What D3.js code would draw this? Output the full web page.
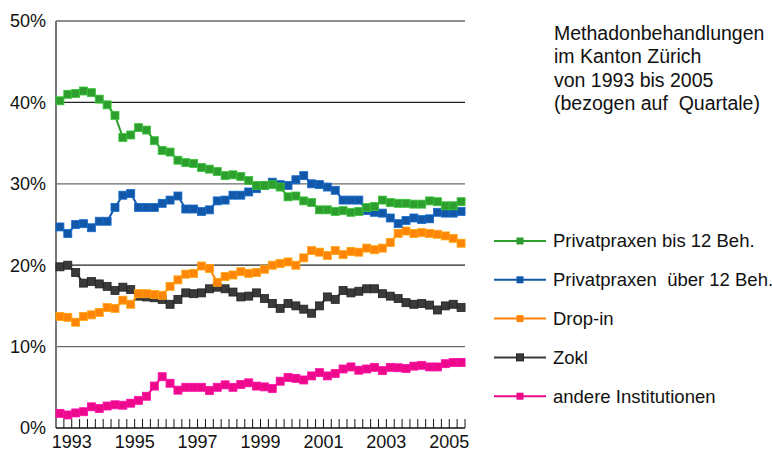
<!DOCTYPE html>
<meta charset="utf-8">
<head>
<style>
  body { margin: 0; background: #fff; }
  svg text { font-family: "Liberation Sans", Arial, sans-serif; fill: #111; }
</style>
</head>

<!-- Load d3.js -->
<script src="https://d3js.org/d3.v7.min.js"></script>

<body>
    <div id="my_dataviz"></div>
</body>

<script>

    // years covered, four quarters each
    var years = [1993, 1994, 1995, 1996, 1997, 1998, 1999, 2000, 2001, 2002, 2003, 2004, 2005];
    var quarters = ["Q1", "Q2", "Q3", "Q4"];
    var yearLabels = ["1993", "1995", "1997", "1999", "2001", "2003", "2005"];
    var yTicks = [0, 10, 20, 30, 40, 50];

    var titleLines = ["Methadonbehandlungen", "im Kanton Zürich", "von 1993 bis 2005", "(bezogen auf  Quartale)"];

    // shares in percent, read per quarter
    var privatBis12 = [40.2, 41.0, 41.1, 41.4, 41.2, 40.4, 39.7, 38.4, 35.7, 36.0, 36.9, 36.6, 35.3, 34.1, 33.9, 32.9,
                       32.6, 32.5, 32.0, 31.8, 31.5, 31.0, 31.1, 30.9, 30.4, 29.8, 29.8, 29.9, 29.6, 28.4, 28.5, 27.9,
                       27.7, 26.8, 26.8, 26.6, 26.7, 26.5, 26.6, 27.1, 27.2, 28.0, 27.7, 27.6, 27.6, 27.5, 27.5, 27.9,
                       27.8, 27.3, 27.3, 27.8];
    var privatUeber12 = [24.7, 23.9, 25.0, 25.1, 24.6, 25.4, 25.4, 27.1, 28.6, 28.8, 27.1, 27.1, 27.1, 27.6, 28.0, 28.5,
                         26.9, 26.9, 26.6, 26.8, 27.9, 28.0, 28.6, 28.6, 29.0, 29.4, 29.8, 30.2, 29.9, 29.8, 30.5, 31.0,
                         30.0, 29.9, 29.6, 29.2, 28.0, 28.0, 28.0, 26.7, 26.5, 26.4, 25.8, 25.1, 25.5, 25.8, 25.6, 25.7,
                         26.5, 26.4, 26.4, 26.6];
    var dropIn = [13.7, 13.6, 13.0, 13.7, 13.9, 14.2, 14.8, 14.7, 15.7, 15.2, 16.5, 16.5, 16.4, 16.3, 17.4, 18.2,
                  18.9, 19.0, 19.9, 19.6, 17.9, 18.6, 18.8, 19.2, 19.0, 19.1, 19.5, 20.0, 20.2, 20.4, 20.0, 20.9,
                  21.8, 21.6, 21.2, 21.8, 21.3, 21.7, 21.6, 22.1, 21.9, 22.1, 22.8, 23.9, 24.2, 23.9, 24.0, 23.9,
                  23.8, 23.6, 23.3, 22.7];
    var zokl = [19.8, 20.0, 19.1, 17.8, 18.0, 17.7, 17.4, 16.9, 17.3, 17.0, 16.2, 16.1, 16.0, 15.8, 15.2, 15.8,
                16.6, 16.5, 16.6, 17.1, 17.3, 17.1, 16.7, 16.1, 16.2, 16.6, 15.9, 15.3, 14.7, 15.3, 15.0, 14.6,
                14.1, 15.0, 16.1, 15.8, 16.9, 16.6, 16.8, 17.1, 17.1, 16.5, 16.2, 15.9, 15.4, 15.2, 15.3, 15.1,
                14.5, 15.0, 15.2, 14.8];
    var andere = [1.8, 1.6, 1.85, 2.0, 2.6, 2.4, 2.7, 2.85, 2.8, 3.05, 3.4, 3.9, 5.15, 6.3, 5.5, 4.65,
                  5.0, 5.0, 5.0, 4.6, 5.0, 5.3, 5.0, 5.35, 5.55, 5.15, 5.05, 4.85, 5.75, 6.2, 6.1, 5.9,
                  6.4, 6.8, 6.4, 6.7, 7.25, 7.5, 7.1, 7.25, 7.45, 7.05, 7.45, 7.4, 7.3, 7.6, 7.7, 7.5,
                  7.5, 7.9, 8.05, 8.05];

    var seriesNames = ["Privatpraxen bis 12 Beh.", "Privatpraxen  über 12 Beh.", "Drop-in", "Zokl", "andere Institutionen"];
    var seriesColors = ["#2e9f2e", "#1257a8", "#ff8508", "#3a3a3a", "#ec0a8a"];
    var seriesValues = [privatBis12, privatUeber12, dropIn, zokl, andere];

    // one key per quarter
    var keys = [];
    years.forEach(function(y) { quarters.forEach(function(q) { keys.push(y + "-" + q); }); });

    var width = 772, height = 453;
    var plot = {left: 56, right: 465, top: 21, bottom: 428};

    var svg = d3.select("#my_dataviz")
      .append("svg")
        .attr("width", width)
        .attr("height", height);

    var x = d3.scaleBand()
      .domain(keys)
      .range([plot.left, plot.right]);

    var y = d3.scaleLinear()
      .domain([0, 50])
      .range([plot.bottom, plot.top]);

    // horizontal grid lines
    svg.append("g")
      .selectAll("line")
      .data(yTicks.filter(function(d) { return d > 0; }))
      .enter()
      .append("line")
        .attr("x1", plot.left)
        .attr("x2", plot.right)
        .attr("y1", function(d) { return y(d); })
        .attr("y2", function(d) { return y(d); })
        .style("stroke", function(d) { return d % 20 == 10 ? "#6a6a6a" : "#222"; })
        .style("stroke-width", 1.3);

    // y labels
    svg.append("g")
      .selectAll("text")
      .data(yTicks)
      .enter()
      .append("text")
        .attr("x", plot.left - 10)
        .attr("y", function(d) { return y(d); })
        .attr("dy", "0.35em")
        .style("text-anchor", "end")
        .style("font-size", "18px")
        .text(function(d) { return d + "%"; });

    // small ticks on the category boundaries, pointing up
    var tickPos = keys.map(function(k) { return x(k); }).concat([plot.right]);
    svg.append("g")
      .selectAll("line")
      .data(tickPos)
      .enter()
      .append("line")
        .attr("x1", function(d) { return d; })
        .attr("x2", function(d) { return d; })
        .attr("y1", plot.bottom)
        .attr("y2", plot.bottom - 9)
        .style("stroke", "#111")
        .style("stroke-width", 1);

    // axis lines
    svg.append("line")
      .attr("x1", plot.left).attr("x2", plot.left)
      .attr("y1", plot.top).attr("y2", plot.bottom)
      .style("stroke", "#777").style("stroke-width", 2);
    svg.append("line")
      .attr("x1", plot.left).attr("x2", plot.right)
      .attr("y1", plot.bottom).attr("y2", plot.bottom)
      .style("stroke", "#111").style("stroke-width", 1.5);

    // year labels, centred on each year
    svg.append("g")
      .selectAll("text")
      .data(yearLabels)
      .enter()
      .append("text")
        .attr("x", function(d) { return x(d + "-Q3"); })
        .attr("y", 448)
        .style("text-anchor", "middle")
        .style("font-size", "18px")
        .text(function(d) { return d; });

    // lines + square markers, last legend entry drawn first
    var line = d3.line()
      .x(function(d, i) { return x(keys[i]) + x.bandwidth() / 2; })
      .y(function(d) { return y(d); });

    var order = [4, 3, 2, 1, 0];
    order.forEach(function(s) {
      var g = svg.append("g");
      g.append("path")
        .datum(seriesValues[s])
        .attr("d", line)
        .style("fill", "none")
        .style("stroke", seriesColors[s])
        .style("stroke-width", 2);
      g.selectAll("rect")
        .data(seriesValues[s])
        .enter()
        .append("rect")
          .attr("x", function(d, i) { return x(keys[i]) + x.bandwidth() / 2 - 4; })
          .attr("y", function(d) { return y(d) - 4; })
          .attr("width", 8)
          .attr("height", 8)
          .style("fill", seriesColors[s])
          .style("stroke", s == 3 ? "#222" : d3.color(seriesColors[s]).brighter(0.6))
          .style("stroke-width", 0.8);
    });

    // title
    svg.append("g")
      .selectAll("text")
      .data(titleLines)
      .enter()
      .append("text")
        .attr("x", 554)
        .attr("y", function(d, i) { return 40 + i * 23.4; })
        .style("font-size", "19.5px")
        .style("white-space", "pre")
        .text(function(d) { return d; });

    // legend
    var legend = svg.append("g")
      .selectAll("g")
      .data(seriesNames)
      .enter()
      .append("g")
        .attr("transform", function(d, i) { return "translate(0," + (241 + i * 38.8) + ")"; });

    legend.append("line")
      .attr("x1", 494).attr("x2", 546)
      .style("stroke", function(d, i) { return seriesColors[i]; })
      .style("stroke-width", 2);
    legend.append("rect")
      .attr("x", 516.5).attr("y", -3.5)
      .attr("width", 7).attr("height", 7)
      .style("fill", function(d, i) { return seriesColors[i]; })
      .style("stroke", function(d, i) { return i == 3 ? "#222" : "none"; });
    legend.append("text")
      .attr("x", 553)
      .attr("dy", "0.35em")
      .style("font-size", "18.5px")
      .style("white-space", "pre")
      .text(function(d) { return d; });

</script>
